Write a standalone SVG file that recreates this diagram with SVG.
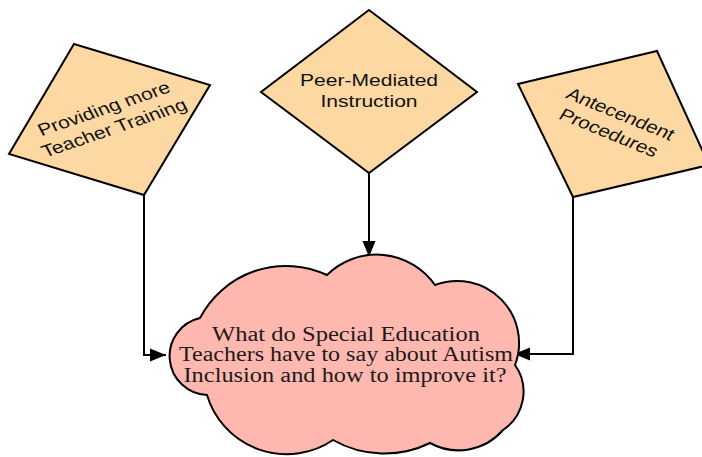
<svg xmlns="http://www.w3.org/2000/svg" width="702" height="457" viewBox="0 0 702 457">
<defs>
<style>
.dia{fill:#fdd8a3;stroke:#000;stroke-width:2;stroke-linejoin:miter}
.cloud{fill:#feb8b0;stroke:#000;stroke-width:2}
.dt{font-family:"Liberation Sans",Arial,sans-serif;font-size:17px;fill:#111;text-anchor:middle}
.ct{font-family:"Liberation Serif","Times New Roman",serif;font-size:20px;fill:#1e1a1a;text-anchor:middle}
.edge{fill:none;stroke:#000;stroke-width:2}
</style>
<marker id="arr" markerUnits="userSpaceOnUse" markerWidth="18" markerHeight="14" refX="16" refY="7" orient="auto">
<path d="M0,0.5 L16,7 L0,13.5 z" fill="#000"/>
</marker>
</defs>
<rect width="702" height="457" fill="#fff"/>
<g id="connectors">
<path class="edge" d="M144,195 V355 H166" marker-end="url(#arr)"/>
<path class="edge" d="M369,173 V257" marker-end="url(#arr)"/>
<path class="edge" d="M573,197 V354 H514" marker-end="url(#arr)"/>
</g>
<g id="node-training">
<polygon class="dia" points="74,44 210,85 144,195 9,154"/>
<g transform="translate(109.5,119.5) scale(1.24,1) rotate(-23)">
<text class="dt" x="0" y="-6">Providing more</text>
<text class="dt" x="0" y="15">Teacher Training</text>
</g>
</g>
<g id="node-peer">
<polygon class="dia" points="369,10 477,92 369,173 261,92"/>
<g transform="translate(369,91.5) scale(1.24,1)">
<text class="dt" x="0" y="-6">Peer-Mediated</text>
<text class="dt" x="0" y="15">Instruction</text>
</g>
</g>
<g id="node-antecedent">
<polygon class="dia" points="657,51 709,165 573,197 518,84"/>
<g transform="translate(614,124.5) scale(1.24,1) rotate(27)">
<text class="dt" x="0" y="-6">Antecendent</text>
<text class="dt" x="0" y="15">Procedures</text>
</g>
</g>
<g id="node-question">
<path class="cloud" d="M327,275 A71,71 0 0 1 435,285 A62,62 0 0 1 515,365 A46,46 0 0 1 503,430 A59,59 0 0 1 430,443 A104,104 0 0 1 333,440 A83,83 0 0 1 207,395 A39,39 0 0 1 200,318 A97,97 0 0 1 327,275 Z"/>
<text class="ct" x="346" y="341" textLength="268" lengthAdjust="spacingAndGlyphs">What do Special Education</text>
<text class="ct" x="346" y="361" textLength="334" lengthAdjust="spacingAndGlyphs">Teachers have to say about Autism</text>
<text class="ct" x="345" y="381.5" textLength="323" lengthAdjust="spacingAndGlyphs">Inclusion and how to improve it?</text>
</g>
</svg>
